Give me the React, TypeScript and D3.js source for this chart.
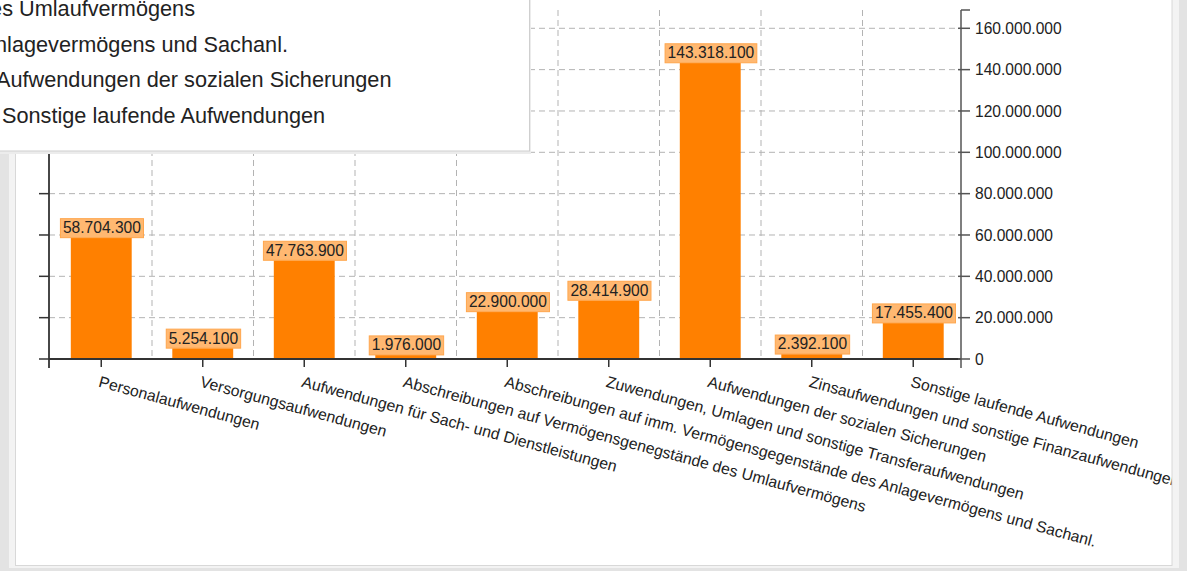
import React from 'react';
import * as d3 from 'd3';

const categories: string[] = [
  'Personalaufwendungen',
  'Versorgungsaufwendungen',
  'Aufwendungen für Sach- und Dienstleistungen',
  'Abschreibungen auf Vermögensgenegstände des Umlaufvermögens',
  'Abschreibungen auf imm. Vermögensgegenstände des Anlagevermögens und Sachanl.',
  'Zuwendungen, Umlagen und sonstige Transferaufwendungen',
  'Aufwendungen der sozialen Sicherungen',
  'Zinsaufwendungen und sonstige Finanzaufwendungen',
  'Sonstige laufende Aufwendungen',
];

const values: number[] = [
  58704300, 5254100, 47763900, 1976000, 22900000, 28414900, 143318100, 2392100, 17455400,
];

const yTickValues: number[] = [
  0, 20000000, 40000000, 60000000, 80000000, 100000000, 120000000, 140000000, 160000000,
];

// visible (cropped) legend entries
const legendLabels: string[] = [categories[3], categories[4], categories[6], categories[8]];

const W = 1187;
const H = 571;
const FONT = "'Liberation Sans', Arial, Helvetica, sans-serif";
const FS = 15.6;
const XFS = 15.8;
const LEGEND_FS = 21.7;

const de = d3.formatLocale({ decimal: ',', thousands: '.', grouping: [3], currency: ['', ' €'] });
const fmt = de.format(',d');

// approximate Arial widths for digit labels
const textWidth = (s: string, fs: number) => {
  let w = 0;
  for (const ch of s) w += ch === '.' || ch === ',' ? 0.278 : 0.556;
  return w * fs;
};

export default function App() {
  const plotLeft = 49;
  const plotRight = 961;
  const plotTop = 10;
  const plotBottom = 359;

  const x = d3.scaleBand<string>().domain(categories).range([50.5, 964]).padding(0);
  const y = d3.scaleLinear().domain([0, 168.85e6]).range([plotBottom, plotTop]);
  const barW = x.bandwidth() * 0.6;
  const step = x.step();

  const boundaries = categories.slice(1).map((c) => x(c)!);

  const legendRows = [
    { anchor: 'end', x: 195, y: 16 },
    { anchor: 'end', x: 288, y: 51.7 },
    { anchor: 'start', x: -4, y: 87.4 },
    { anchor: 'start', x: 2, y: 123 },
  ];

  return (
    <svg
      width={W}
      height={H}
      style={{ position: 'absolute', left: 0, top: 0, display: 'block' }}
      fontFamily={FONT}
    >
      <style>{`body{margin:0;overflow:hidden}`}</style>
      <defs>
        <clipPath id="panelClip">
          <rect x={0} y={0} width={1171.5} height={565} />
        </clipPath>
      </defs>
      {/* page background & panel */}
      <rect x={0} y={0} width={W} height={H} fill="#e3e3e3" />
      <rect x={9} y={-5} width={1170} height={573} fill="#f3f3f3" />
      <rect x={15.5} y={-5} width={1156.5} height={570.5} fill="#ffffff" stroke="#d8d8d8" />

      {/* grid */}
      <g stroke="#b3b3b3" strokeWidth={1} strokeDasharray="6,4" fill="none">
        {yTickValues.slice(1).map((t) => (
          <line key={'h' + t} x1={plotLeft} x2={plotRight} y1={y(t)} y2={y(t)} />
        ))}
        {boundaries.map((b, i) => (
          <line key={'v' + i} x1={b} x2={b} y1={plotTop} y2={plotBottom} />
        ))}
      </g>

      {/* bars */}
      {categories.map((c, i) => {
        const cx = x(c)! + step / 2;
        return (
          <rect
            key={'b' + i}
            x={cx - barW / 2}
            y={y(values[i])}
            width={barW}
            height={plotBottom - y(values[i])}
            fill="#ff8000"
          />
        );
      })}

      {/* bar labels */}
      {categories.map((c, i) => {
        const cx = x(c)! + step / 2 + 0.7;
        const label = fmt(values[i]);
        const tw = textWidth(label, FS);
        const bw = tw + 5;
        const bh = 19;
        const top = y(values[i]);
        return (
          <g key={'l' + i}>
            <rect
              x={cx - bw / 2}
              y={top - bh}
              width={bw}
              height={bh}
              fill="#ffb871"
              stroke="#ffa64d"
              strokeWidth={1}
            />
            <text x={cx} y={top - 4.6} textAnchor="middle" fontSize={FS} fill="#222">
              {label}
            </text>
          </g>
        );
      })}

      {/* axes */}
      <g stroke="#333" fill="none">
        {/* left axis */}
        <line x1={plotLeft} x2={plotLeft} y1={plotTop} y2={368} strokeWidth={1.8} />
        {yTickValues.map((t) => (
          <line key={'lt' + t} x1={39} x2={plotLeft} y1={y(t)} y2={y(t)} strokeWidth={1.5} />
        ))}
        {/* x axis */}
        <line x1={plotLeft} x2={plotRight} y1={plotBottom} y2={plotBottom} strokeWidth={1.8} />
        {categories.map((c, i) => {
          const cx = x(c)! + step / 2;
          return <line key={'xt' + i} x1={cx} x2={cx} y1={plotBottom} y2={367} strokeWidth={1.5} />;
        })}
        {/* right axis */}
        <line x1={plotRight} x2={plotRight} y1={plotTop} y2={368} stroke="#555" strokeWidth={1.5} />
        <line x1={plotRight} x2={970} y1={plotTop} y2={plotTop} stroke="#555" strokeWidth={1.5} />
        {yTickValues.map((t) => (
          <line key={'rt' + t} x1={958} x2={970} y1={y(t)} y2={y(t)} stroke="#555" strokeWidth={1.5} />
        ))}
      </g>

      {/* right tick labels */}
      {yTickValues.map((t) => (
        <text key={'rl' + t} x={975} y={y(t)} dy="0.36em" fontSize={FS} fill="#222">
          {fmt(t)}
        </text>
      ))}

      {/* x tick labels */}
      <g clipPath="url(#panelClip)">
        {categories.map((c, i) => {
          const cx = x(c)! + step / 2;
          const px = cx - 0.5;
          const py = 375.5;
          return (
            <text
              key={'xl' + i}
              transform={`translate(${px},${py}) rotate(15.2)`}
              x={0}
              y={0}
              dy="0.72em"
              fontSize={XFS}
              fill="#222"
            >
              {c}
            </text>
          );
        })}
      </g>

      {/* legend (cropped at the top-left) */}
      <rect x={-10} y={-10} width={541} height={164} fill="#ececec" />
      <rect x={-10} y={-10} width={539.5} height={161} fill="#ffffff" stroke="#cfcfcf" />
      {legendLabels.map((l, i) => (
        <text
          key={'lg' + i}
          x={legendRows[i].x}
          y={legendRows[i].y}
          textAnchor={legendRows[i].anchor as any}
          fontSize={LEGEND_FS}
          fill="#222"
        >
          {l}
        </text>
      ))}
    </svg>
  );
}
